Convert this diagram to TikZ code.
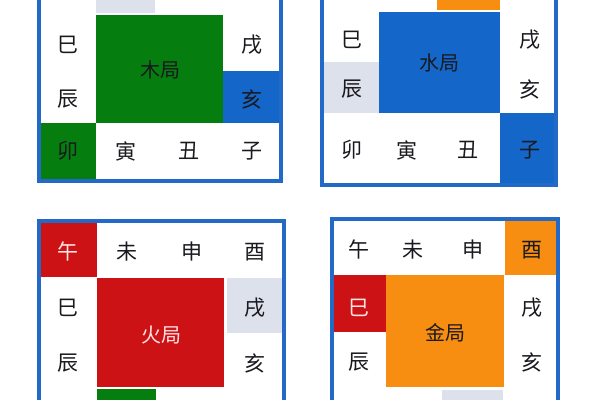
\documentclass[tikz,border=0pt]{standalone}
\usepackage{xcolor}
\usepackage{fontspec}
\usepackage{tikz}
\newfontfamily\cjk{Noto Sans CJK SC}
\definecolor{frameblue}{RGB}{35,105,200}
\definecolor{woodgreen}{RGB}{5,125,15}
\definecolor{waterblue}{RGB}{20,102,200}
\definecolor{firered}{RGB}{205,18,22}
\definecolor{metalorange}{RGB}{247,142,18}
\definecolor{cellgray}{RGB}{220,225,235}
\definecolor{inkdark}{RGB}{25,25,30}
\definecolor{inklight}{RGB}{255,228,228}

\begin{document}
\begin{tikzpicture}[x=0.5pt, y=-0.5pt,
    board/.style={draw=frameblue, line width=2pt},
    zhi/.style={inner sep=0pt, text=inkdark, font=\cjk\fontsize{10.5}{10.5}\selectfont},
    ju/.style={inner sep=0pt, text=inkdark, font=\cjk\fontsize{10}{10}\selectfont},
    onred/.style={text=inklight}
]
\useasboundingbox (0,0) rectangle (600,400);
\clip (0,0) rectangle (600,400);

% Wood panel
\fill[cellgray] (96,-41) rectangle (155,13);
\fill[woodgreen] (96,15) rectangle (223,123);
\fill[waterblue] (223,71) rectangle (279,123);
\fill[woodgreen] (41,123) rectangle (96,179);
\draw[board] (39,-43) rectangle (281,181);
\node[zhi] (muSi) at (68,45) {巳};
\node[zhi] (muChen) at (68,99) {辰};
\node[zhi] (muMao) at (68,151) {卯};
\node[zhi] (muYin) at (126,151) {寅};
\node[zhi] (muChou) at (189,151) {丑};
\node[zhi] (muZi) at (252,151) {子};
\node[zhi] (muXu) at (252,45) {戌};
\node[zhi] (muHai) at (252,99) {亥};
\node[ju] (muJu) at (160,70) {木局};

% Water panel
\fill[metalorange] (437,-42) rectangle (500,10);
\fill[waterblue] (379,12) rectangle (500,113);
\fill[cellgray] (324,62) rectangle (379,113);
\fill[waterblue] (500,113) rectangle (554,183);
\draw[board] (322,-44) rectangle (556,185);
\node[zhi] (shuiSi) at (352,40) {巳};
\node[zhi] (shuiChen) at (352,89) {辰};
\node[zhi] (shuiMao) at (352,150) {卯};
\node[zhi] (shuiYin) at (407,150) {寅};
\node[zhi] (shuiChou) at (468,150) {丑};
\node[zhi] (shuiZi) at (530,150) {子};
\node[zhi] (shuiXu) at (530,40) {戌};
\node[zhi] (shuiHai) at (530,89) {亥};
\node[ju] (shuiJu) at (439,63) {水局};

% Fire panel
\fill[firered] (41,223) rectangle (97,277);
\fill[firered] (97,278) rectangle (224,387);
\fill[cellgray] (227,278) rectangle (282,333);
\fill[woodgreen] (97,389) rectangle (156,445);
\draw[board] (39,221) rectangle (284,446);
\node[zhi, onred] (huoWu) at (68,252) {午};
\node[zhi] (huoWei) at (127,252) {未};
\node[zhi] (huoShen) at (192,252) {申};
\node[zhi] (huoYou) at (255,252) {酉};
\node[zhi] (huoSi) at (68,308) {巳};
\node[zhi] (huoChen) at (68,363) {辰};
\node[zhi] (huoXu) at (255,308) {戌};
\node[zhi] (huoHai) at (255,363) {亥};
\node[ju, onred] (huoJu) at (161,335) {火局};

% Metal panel
\fill[metalorange] (505,221) rectangle (556,275);
\fill[firered] (334,275) rectangle (386,332);
\fill[metalorange] (386,275) rectangle (504,387);
\fill[cellgray] (442,390) rectangle (503,445);
\draw[board] (332,219) rectangle (558,446);
\node[zhi] (jinWu) at (359,250) {午};
\node[zhi] (jinWei) at (413,250) {未};
\node[zhi] (jinShen) at (473,250) {申};
\node[zhi] (jinYou) at (532,250) {酉};
\node[zhi, onred] (jinSi) at (359,308) {巳};
\node[zhi] (jinChen) at (359,362) {辰};
\node[zhi] (jinXu) at (532,308) {戌};
\node[zhi] (jinHai) at (532,362) {亥};
\node[ju] (jinJu) at (445,333) {金局};

\end{tikzpicture}
\end{document}
